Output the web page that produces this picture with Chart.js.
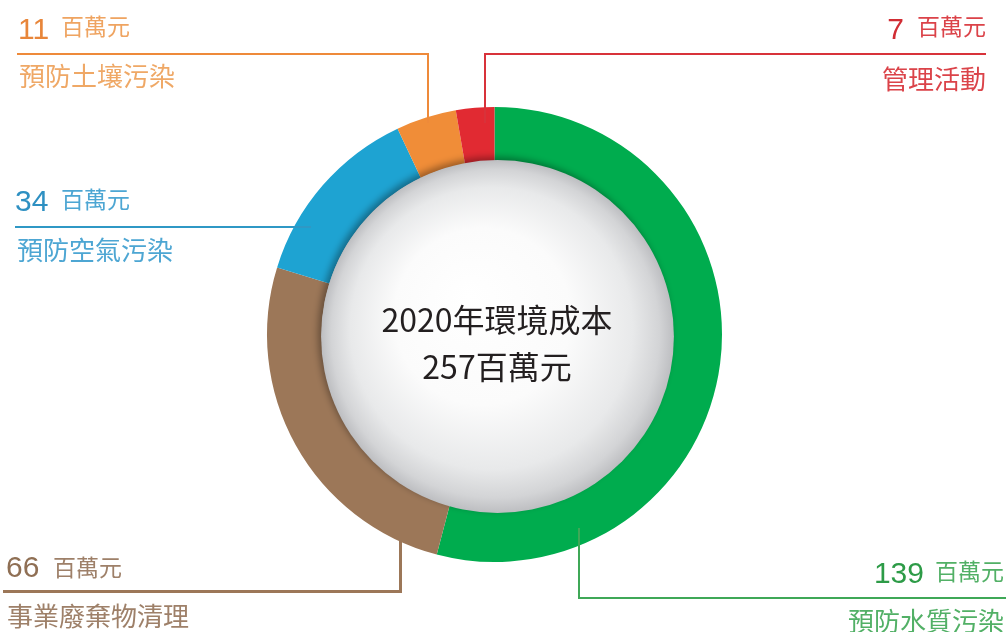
<!DOCTYPE html>
<html><head><meta charset="utf-8">
<script src="https://cdn.jsdelivr.net/npm/chart.js@4/dist/chart.umd.min.js"></script>
<style>
html,body{margin:0;padding:0;background:#fff;}
#wrap{position:relative;width:1006px;height:632px;overflow:hidden;}
canvas{position:absolute;left:0;top:0;}
.t{position:absolute;white-space:nowrap;line-height:1;}
.num{font-family:"Liberation Sans",Arial,sans-serif;font-size:30px;}
.unit{font-family:"Noto Sans CJK TC",sans-serif;font-size:23px;}
.lab{font-family:"Noto Sans CJK TC",sans-serif;font-size:26px;}
.ln{position:absolute;}
.center{position:absolute;left:297px;width:400px;text-align:center;font-family:"Noto Sans CJK TC",sans-serif;font-size:32px;color:#231f20;line-height:1;}
</style></head>
<body><div id="wrap">
<canvas id="c" width="1006" height="632"></canvas>

<!-- orange -->
<div class="ln" style="left:17px;top:53px;width:412px;height:2px;background:#EE8A3A"></div>
<div class="ln" style="left:427px;top:53px;width:2px;height:70px;background:#EE8A3A"></div>
<div class="t num" style="left:18px;top:14px;color:#E8863A">11</div>
<div class="t unit" style="left:61px;top:14px;color:#EFA461">百萬元</div>
<div class="t lab" style="left:19px;top:62px;color:#EFA866">預防土壤污染</div>

<!-- red -->
<div class="ln" style="left:484px;top:53px;width:502px;height:2px;background:#D8323A"></div>
<div class="ln" style="left:484px;top:53px;width:2px;height:70px;background:#D8323A"></div>
<div class="t num" style="right:102px;top:14px;color:#D12D34">7</div>
<div class="t unit" style="right:20px;top:14px;color:#DB4349">百萬元</div>
<div class="t lab" style="right:20px;top:65px;color:#DB4349">管理活動</div>

<!-- blue -->
<div class="ln" style="left:15px;top:226px;width:296px;height:2px;background:#2F98C5"></div>
<div class="t num" style="left:15px;top:186px;color:#2E90C2">34</div>
<div class="t unit" style="left:61px;top:187px;color:#4DA6D3">百萬元</div>
<div class="t lab" style="left:17px;top:236px;color:#4DA6D3">預防空氣污染</div>

<!-- brown -->
<div class="ln" style="left:3px;top:590px;width:399px;height:3px;background:#9C7758"></div>
<div class="ln" style="left:399px;top:518px;width:3px;height:75px;background:#9C7758"></div>
<div class="t num" style="left:6px;top:552px;color:#8F6F54">66</div>
<div class="t unit" style="left:53px;top:555px;color:#9E8069">百萬元</div>
<div class="t lab" style="left:7px;top:602px;color:#9E8069">事業廢棄物清理</div>

<!-- green -->
<div class="ln" style="left:578px;top:597px;width:428px;height:2px;background:#3FA857"></div>
<div class="ln" style="left:578px;top:528px;width:2px;height:71px;background:#3FA857"></div>
<div class="t num" style="right:82px;top:558px;color:#2D9B47">139</div>
<div class="t unit" style="right:2px;top:559px;color:#52B066">百萬元</div>
<div class="t lab" style="right:2px;top:607px;color:#52B066">預防水質污染</div>

<div class="center" style="top:302px">2020年環境成本</div>
<div class="center" style="top:349px">257百萬元</div>
</div>
<script>
const categories = ['預防水質污染','事業廢棄物清理','預防空氣污染','預防土壤污染','管理活動'];
const values = [139, 66, 34, 11, 7];
const colors = ['#00AC4E','#9C7758','#1EA3D2','#F08D38','#E12A32'];

const sphere = {
  id:'sphere',
  afterDatasetsDraw(chart){
    const meta = chart.getDatasetMeta(0);
    const arc = meta.data[0];
    const cx = arc.x + 3, cy = arc.y + 2;
    const r = arc.innerRadius + 3.5;
    const ctx = chart.ctx;
    ctx.save();
    const g = ctx.createRadialGradient(cx-30, cy-40, 0, cx, cy, r);
    g.addColorStop(0, '#ffffff');
    g.addColorStop(0.5, '#fbfbfb');
    g.addColorStop(0.8, '#e8e9ea');
    g.addColorStop(0.93, '#d3d4d6');
    g.addColorStop(1, '#bdbec1');
    ctx.shadowColor = 'rgba(0,0,0,0.35)';
    ctx.shadowBlur = 7;
    ctx.shadowOffsetX = -3;
    ctx.shadowOffsetY = -3;
    ctx.beginPath();
    ctx.arc(cx, cy, r, 0, Math.PI*2);
    ctx.fillStyle = g;
    ctx.fill();
    ctx.restore();
  }
};

new Chart(document.getElementById('c'), {
  type:'doughnut',
  data:{labels:categories, datasets:[{data:values, backgroundColor:colors, borderWidth:0}]},
  options:{
    responsive:false, animation:false,
    cutout:'76%',
    layout:{padding:{left:267,right:284,top:107,bottom:70}},
    plugins:{legend:{display:false}, tooltip:{enabled:false}}
  },
  plugins:[sphere]
});
</script>
</body></html>
